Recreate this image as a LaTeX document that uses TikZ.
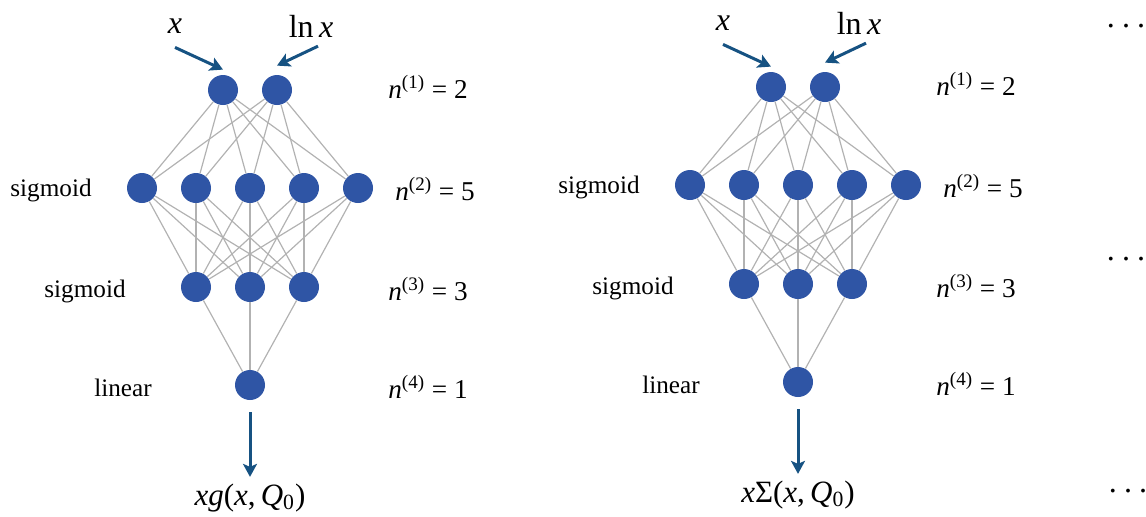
\documentclass[tikz,border=0pt]{standalone}
\usepackage{fontspec}
\setmainfont{Liberation Serif}
\usetikzlibrary{arrows.meta}
\usepackage{xcolor}
\definecolor{neuronblue}{RGB}{47,85,165}
\definecolor{arrowblue}{RGB}{22,82,130}
\definecolor{linkgray}{RGB}{178,178,178}
\newcommand{\nsize}[2]{\textit{n}\textsuperscript{(#1)}~=~#2}
\newcommand{\outleft}{\textit{xg}(\textit{x},\,\textit{Q}\textsubscript{0})}
\newcommand{\outright}{\textit{x}Σ(\textit{x},\,\textit{Q}\textsubscript{0})}
\newcommand{\dotrow}{.\hspace{3.6pt}.\hspace{3.6pt}.}

\begin{document}
\begin{tikzpicture}[
  x=0.5pt, y=-0.5pt,
  neuron/.style={circle, fill=neuronblue, minimum size=15pt, inner sep=0pt},
  link/.style={draw=linkgray, line width=0.6pt},
  arr/.style={draw=arrowblue, line width=1.5pt, -{Stealth[length=6.5pt,width=7pt,inset=1.5pt]}},
  actlabel/.style={font=\fontsize{12.6}{14}\selectfont},
  sizelabel/.style={font=\fontsize{13.6}{15}\selectfont},
  inlabel/.style={font=\fontsize{16}{18}\selectfont},
  outlabel/.style={font=\fontsize{15.5}{17}\selectfont},
  dotlabel/.style={font=\fontsize{16}{18}\selectfont, inner sep=0pt}
]
\useasboundingbox (0,0) rectangle (1146,516);

\foreach \net/\dx/\dy/\outtxt in {L/0/0/\outleft, R/548/-3/\outright} {
  \begin{scope}[shift={(\dx,\dy)}]
    % layers
    \foreach \i/\xx in {1/223,2/277} \node[neuron] (\net-1-\i) at (\xx,90) {};
    \foreach \i in {1,...,5} \node[neuron] (\net-2-\i) at ({142+54*(\i-1)},188) {};
    \foreach \i in {1,2,3} \node[neuron] (\net-3-\i) at ({196+54*(\i-1)},287) {};
    \node[neuron] (\net-4-1) at (250,385) {};

    \foreach \i in {1,2} \foreach \j in {1,...,5} \draw[link] (\net-1-\i) -- (\net-2-\j);
    \foreach \i in {1,...,5} \foreach \j in {1,2,3} \draw[link] (\net-2-\i) -- (\net-3-\j);
    \foreach \j in {1,2,3} \draw[link] (\net-3-\j) -- (\net-4-1);

    % inputs and output
    \node[inlabel] (\net-inx) at (175,26) {\textit{x}};
    \node[inlabel] (\net-inlnx) at (311,26) {ln\,\textit{x}};
    \node[outlabel] (\net-out) at (250,498) {\outtxt};
    \draw[arr] ([yshift=-3.5pt]\net-inx.south) -- ([yshift=2.5pt]\net-1-1.north);
    \draw[arr] ([xshift=3.5pt,yshift=-1pt]\net-inlnx.south) -- ([yshift=4.5pt]\net-1-2.north);
    \draw[arr] ([yshift=-6pt]\net-4-1.south) -- (\net-out.north);

    % side labels
    \node[actlabel] (\net-act2) at (51,190) {sigmoid};
    \node[actlabel] (\net-act3) at (85,291) {sigmoid};
    \node[actlabel] (\net-act4) at (123,388) {linear};
    \node[sizelabel] (\net-size1) at (428,87) {\nsize{1}{2}};
    \node[sizelabel] (\net-size2) at (435,189) {\nsize{2}{5}};
    \node[sizelabel] (\net-size3) at (428,289) {\nsize{3}{3}};
    \node[sizelabel] (\net-size4) at (428,387) {\nsize{4}{1}};
  \end{scope}
}

\node[dotlabel] (dots1) at (1126,26) {\dotrow};
\node[dotlabel] (dots2) at (1126,259) {\dotrow};
\node[dotlabel] (dots3) at (1128,491) {\dotrow};
\end{tikzpicture}
\end{document}
